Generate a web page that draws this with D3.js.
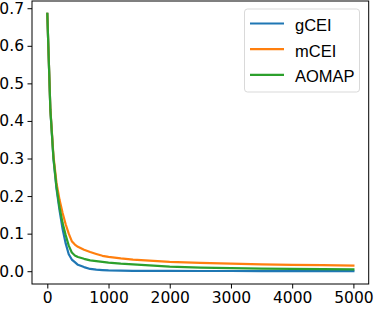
<!DOCTYPE html>
<html>
<head>
<meta charset="utf-8">
<script src="https://cdn.jsdelivr.net/npm/d3@7"></script>
<style>
  html, body { margin: 0; padding: 0; background: #fff; }
  svg { display: block; }
  .tick text { font-family: "DejaVu Sans", sans-serif; font-size: 15.5px; fill: #000; }
  .legend text { font-family: "Liberation Sans", Arial, sans-serif; font-size: 16.5px; fill: #000; }
</style>
</head>
<body>
<svg id="chart" width="374" height="310"></svg>
<script>
'use strict';

// evaluations (x) shared by all three runs
var evals = [0, 50, 100, 150, 200, 250, 300, 350, 400, 450, 500, 600, 700, 800, 900,
  1000, 1200, 1400, 1600, 1800, 2000, 2500, 3000, 3500, 4000, 4500, 5000];

var gCEI = [0.685, 0.43, 0.3, 0.22, 0.162, 0.112, 0.074, 0.045, 0.031, 0.024, 0.017, 0.011, 0.006, 0.004, 0.003,
  0.002, 0.0015, 0.001, 0.001, 0.0008, 0.0007, 0.0006, 0.0005, 0.0004, 0.0003, 0.0003, 0.0002];

var mCEI = [0.685, 0.432, 0.308, 0.235, 0.19, 0.155, 0.125, 0.1, 0.08, 0.071, 0.065, 0.057, 0.051, 0.046, 0.041,
  0.038, 0.034, 0.031, 0.029, 0.027, 0.025, 0.022, 0.02, 0.018, 0.017, 0.016, 0.015];

var AOMAP = [0.685, 0.43, 0.302, 0.225, 0.17, 0.128, 0.096, 0.068, 0.05, 0.042, 0.038, 0.033, 0.029, 0.027, 0.025,
  0.023, 0.02, 0.018, 0.016, 0.014, 0.012, 0.0095, 0.008, 0.007, 0.006, 0.0055, 0.005];

var seriesNames = ['gCEI', 'mCEI', 'AOMAP'];
var xTicks = [0, 1000, 2000, 3000, 4000, 5000];
var yTicks = [0.0, 0.1, 0.2, 0.3, 0.4, 0.5, 0.6, 0.7];

var colors = { gCEI: '#1f77b4', mCEI: '#ff7f0e', AOMAP: '#2ca02c' };
var values = { gCEI: gCEI, mCEI: mCEI, AOMAP: AOMAP };

var svg = d3.select('#chart'),
    plotLeft = 32, plotRight = 368.7, plotTop = 1, plotBottom = 284;

// matplotlib style 5% margins on the data range
var xMin = d3.min(evals), xMax = d3.max(evals),
    yAll = gCEI.concat(mCEI, AOMAP),
    yMin = d3.min(yAll), yMax = d3.max(yAll),
    xPad = (xMax - xMin) * 0.05, yPad = (yMax - yMin) * 0.05;

var x = d3.scaleLinear().domain([xMin - xPad, xMax + xPad]).range([plotLeft, plotRight]),
    y = d3.scaleLinear().domain([yMin - yPad, yMax + yPad]).range([plotBottom, plotTop]);

var line = d3.line()
  .x(function (d) { return x(d[0]); })
  .y(function (d) { return y(d[1]); });

seriesNames.forEach(function (name) {
  svg.append('path')
    .datum(d3.zip(evals, values[name]))
    .attr('fill', 'none')
    .attr('stroke', colors[name])
    .attr('stroke-width', 2.2)
    .attr('stroke-linejoin', 'round')
    .attr('stroke-linecap', 'square')
    .attr('d', line);
});

// axes
var xAxis = svg.append('g')
  .attr('transform', 'translate(0,' + plotBottom + ')')
  .call(d3.axisBottom(x).tickValues(xTicks).tickSize(4.5).tickPadding(3.5).tickFormat(d3.format('d')));

var yAxis = svg.append('g')
  .attr('transform', 'translate(' + plotLeft + ',0)')
  .call(d3.axisLeft(y).tickValues(yTicks).tickSize(4.5).tickPadding(3.5).tickFormat(d3.format('.1f')));

[xAxis, yAxis].forEach(function (g) {
  g.select('.domain').remove();
  g.selectAll('.tick line').attr('stroke', '#000').attr('stroke-width', 1);
  g.selectAll('.tick text').attr('font-family', null).attr('font-size', null);
});

// frame
svg.append('rect')
  .attr('x', plotLeft).attr('y', plotTop)
  .attr('width', plotRight - plotLeft).attr('height', plotBottom - plotTop)
  .attr('fill', 'none')
  .attr('stroke', '#000')
  .attr('stroke-width', 1);

// legend
var legend = svg.append('g').attr('class', 'legend');

legend.append('rect')
  .attr('x', 244.5).attr('y', 9)
  .attr('width', 115).attr('height', 83)
  .attr('rx', 3)
  .attr('fill', '#fff')
  .attr('fill-opacity', 0.8)
  .attr('stroke', '#d9d9d9')
  .attr('stroke-width', 1);

seriesNames.forEach(function (name, i) {
  var ly = 23.5 + i * 25.7;
  legend.append('line')
    .attr('x1', 250).attr('x2', 284)
    .attr('y1', ly).attr('y2', ly)
    .attr('stroke', colors[name])
    .attr('stroke-width', 2.2);
  legend.append('text')
    .attr('x', 295)
    .attr('y', ly + 7.5)
    .text(name);
});
</script>
</body>
</html>
